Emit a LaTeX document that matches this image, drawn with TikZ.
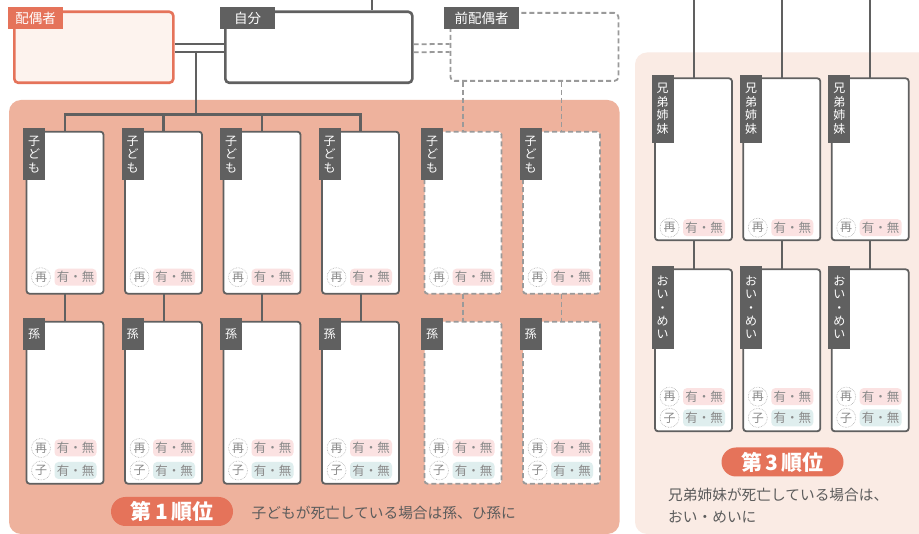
\documentclass[tikz,border=0pt]{standalone}
\usepackage{fontspec}
\setmainfont{Noto Sans CJK JP}
\usetikzlibrary{calc}
\definecolor{orng}{HTML}{E5735A}
\definecolor{salmon}{HTML}{EEB29D}
\definecolor{peach}{HTML}{FAEBE4}
\definecolor{spfill}{HTML}{FDF3EE}
\definecolor{dgray}{HTML}{606060}
\definecolor{lgray}{HTML}{9A9A9A}
\definecolor{pinkchip}{HTML}{FBE2E2}
\definecolor{tealchip}{HTML}{DFEEEE}
\definecolor{chiptxt}{HTML}{8A8A8A}
\definecolor{desctxt}{HTML}{5C5C5C}
\tikzset{
 conn/.style={draw=dgray, line width=2.4pt},
 dconn/.style={draw=lgray, line width=1.8pt, dash pattern=on 5pt off 3pt},
 card/.style={draw=dgray, line width=1.8pt, rounded corners=3pt, fill=white, minimum width=77pt, minimum height=162pt, anchor=north west, inner sep=0pt, outer sep=0pt},
 dcard/.style={card, draw=lgray, dash pattern=on 5pt off 3pt},
 tab/.style={fill=dgray, text=white, font=\fontsize{12}{13.4}\selectfont, inner sep=0pt, text width=22pt, align=center, anchor=north west},
 toptab/.style={fill=dgray, text=white, font=\fontsize{13.5}{14}\selectfont, inner sep=0pt, minimum height=22pt, anchor=north west},
 recircle/.style={circle, draw=lgray!80, densely dotted, line width=0.6pt, minimum size=19pt, inner sep=0pt, font=\fontsize{12}{12}\selectfont, text=chiptxt},
 chip/.style={rounded corners=4pt, minimum width=42pt, minimum height=17pt, inner sep=0pt, font=\fontsize{12.5}{12.5}\selectfont, text=chiptxt},
 pill/.style={fill=orng, text=white, rounded corners=14.5pt, minimum width=122pt, minimum height=29pt, inner sep=0pt, font=\fontsize{21}{21}\selectfont\bfseries},
 desc/.style={text=desctxt, font=\fontsize{14.7}{21.3}\selectfont, inner sep=0pt, anchor=west, align=left},
}
\newcommand\famcard[6]{%
  \node[#2] (#1) at (#3,#4) {};
  \node[tab, minimum height=#6] (#1t) at ([xshift=-3.5pt,yshift=3.5pt]#1.north west) {#5};
}
\newcommand\chiprow[5]{%
  \path (#1.south west) ++(14.5,-#3) node[recircle] (#1#2a) {#4} ++(34.5,0) node[chip, fill=#5] (#1#2b) {有・無};
}
\begin{document}
\begin{tikzpicture}[x=1pt,y=-1pt]
\clip (0,0) rectangle (919,534);
\fill[white] (0,0) rectangle (919,534);
% panels
\fill[salmon, rounded corners=12pt] (9,100) rectangle (619.5,534);
\fill[peach, rounded corners=12pt] (635,52.5) rectangle (940,534);
% top boxes
\node[draw=orng, line width=2.6pt, rounded corners=4pt, fill=spfill, anchor=north west, minimum width=159pt, minimum height=71pt, inner sep=0pt] (spouse) at (13,10.5) {};
\node[draw=dgray, line width=2.6pt, rounded corners=4pt, fill=white, anchor=north west, minimum width=187pt, minimum height=71pt, inner sep=0pt] (self) at (224,10.5) {};
\node[draw=lgray, line width=1.8pt, dash pattern=on 5pt off 3pt, rounded corners=4pt, fill=white, anchor=north west, minimum width=168pt, minimum height=68pt, inner sep=0pt] (ex) at (449.5,12) {};
\node[toptab, fill=orng, minimum width=55pt] (spouset) at (8,7) {配偶者};
\node[toptab, minimum width=55pt] (selft) at (220,7) {自分};
\node[toptab, minimum width=75pt] (ext) at (444,7) {前配偶者};
% children
\famcard{c1}{card}{26.5}{131.7}{子\\ど\\も}{52pt}
\famcard{c2}{card}{125}{131.7}{子\\ど\\も}{52pt}
\famcard{c3}{card}{223.5}{131.7}{子\\ど\\も}{52pt}
\famcard{c4}{card}{322}{131.7}{子\\ど\\も}{52pt}
\famcard{d1}{dcard}{424.5}{131.7}{子\\ど\\も}{52pt}
\famcard{d2}{dcard}{523}{131.7}{子\\ど\\も}{52pt}
% grandchildren
\famcard{g1}{card}{26.5}{321.7}{孫}{32pt}
\famcard{g2}{card}{125}{321.7}{孫}{32pt}
\famcard{g3}{card}{223.5}{321.7}{孫}{32pt}
\famcard{g4}{card}{322}{321.7}{孫}{32pt}
\famcard{e1}{dcard}{424.5}{321.7}{孫}{32pt}
\famcard{e2}{dcard}{523}{321.7}{孫}{32pt}
% siblings and nephews
\famcard{s1}{card}{655}{78.3}{兄\\弟\\姉\\妹}{67.7pt}
\famcard{s2}{card}{743.3}{78.3}{兄\\弟\\姉\\妹}{67.7pt}
\famcard{s3}{card}{831.7}{78.3}{兄\\弟\\姉\\妹}{67.7pt}
\famcard{n1}{card}{655}{269.3}{お\\い\\・\\め\\い}{82.7pt}
\famcard{n2}{card}{743.3}{269.3}{お\\い\\・\\め\\い}{82.7pt}
\famcard{n3}{card}{831.7}{269.3}{お\\い\\・\\め\\い}{82.7pt}
% chips
\foreach \k in {c1,c2,c3,c4,d1,d2}{\chiprow{\k}{r}{16.5}{再}{pinkchip}}
\foreach \k in {g1,g2,g3,g4,e1,e2}{\chiprow{\k}{r}{35.7}{再}{pinkchip}\chiprow{\k}{k}{13.2}{子}{tealchip}}
\foreach \k in {s1,s2,s3}{\chiprow{\k}{r}{12.6}{再}{pinkchip}}
\foreach \k in {n1,n2,n3}{\chiprow{\k}{r}{34.7}{再}{pinkchip}\chiprow{\k}{k}{13.4}{子}{tealchip}}
% connectors
\coordinate (top) at (0,0);
\coordinate (selftop) at (372,0);
\draw[conn] (selftop) -- (selftop |- self.north);
\draw[conn] ($(spouse.east)+(0,-3)$) -- ($(self.west)+(0,-3)$);
\draw[conn] ($(spouse.east)+(0,5)$) -- ($(self.west)+(0,5)$);
\coordinate (jn) at (195.7,51);
\coordinate (bus) at ($(c1.north)+(0,-17)$);
\draw[conn] (jn) -- (jn |- bus);
\draw[conn] (c1.north) -- (bus) -| (c4.north);
\draw[conn] (c2.north) -- (c2.north |- bus);
\draw[conn] (c3.north) -- (c3.north |- bus);
\draw[dconn] ($(self.east)+(0,-3)$) -- ($(ex.west)+(0,-3)$);
\draw[dconn] ($(self.east)+(0,5)$) -- ($(ex.west)+(0,5)$);
\draw[dconn] (d1.north |- ex.south) -- (d1.north);
\draw[dconn] (d2.north |- ex.south) -- (d2.north);
\foreach \a/\b in {c1/g1,c2/g2,c3/g3,c4/g4,s1/n1,s2/n2,s3/n3}{\draw[conn, line width=2pt] (\a.south) -- (\b.north);}
\foreach \a/\b in {d1/e1,d2/e2}{\draw[dconn] (\a.south) -- (\b.north);}
\foreach \k in {s1,s2,s3}{\draw[conn, line width=2pt] (\k.north) -- (\k.north |- top);}
% ranks
\node[pill] (rank1) at (172,511.5) {第\,1\,順位};
\node[desc] (desc1) at (251.5,513) {子どもが死亡している場合は孫、ひ孫に};
\node[pill] (rank3) at (782.5,462) {第\,3\,順位};
\node[desc] (desc3) at (668,505.5) {兄弟姉妹が死亡している場合は、\\おい・めいに};
\end{tikzpicture}
\end{document}
